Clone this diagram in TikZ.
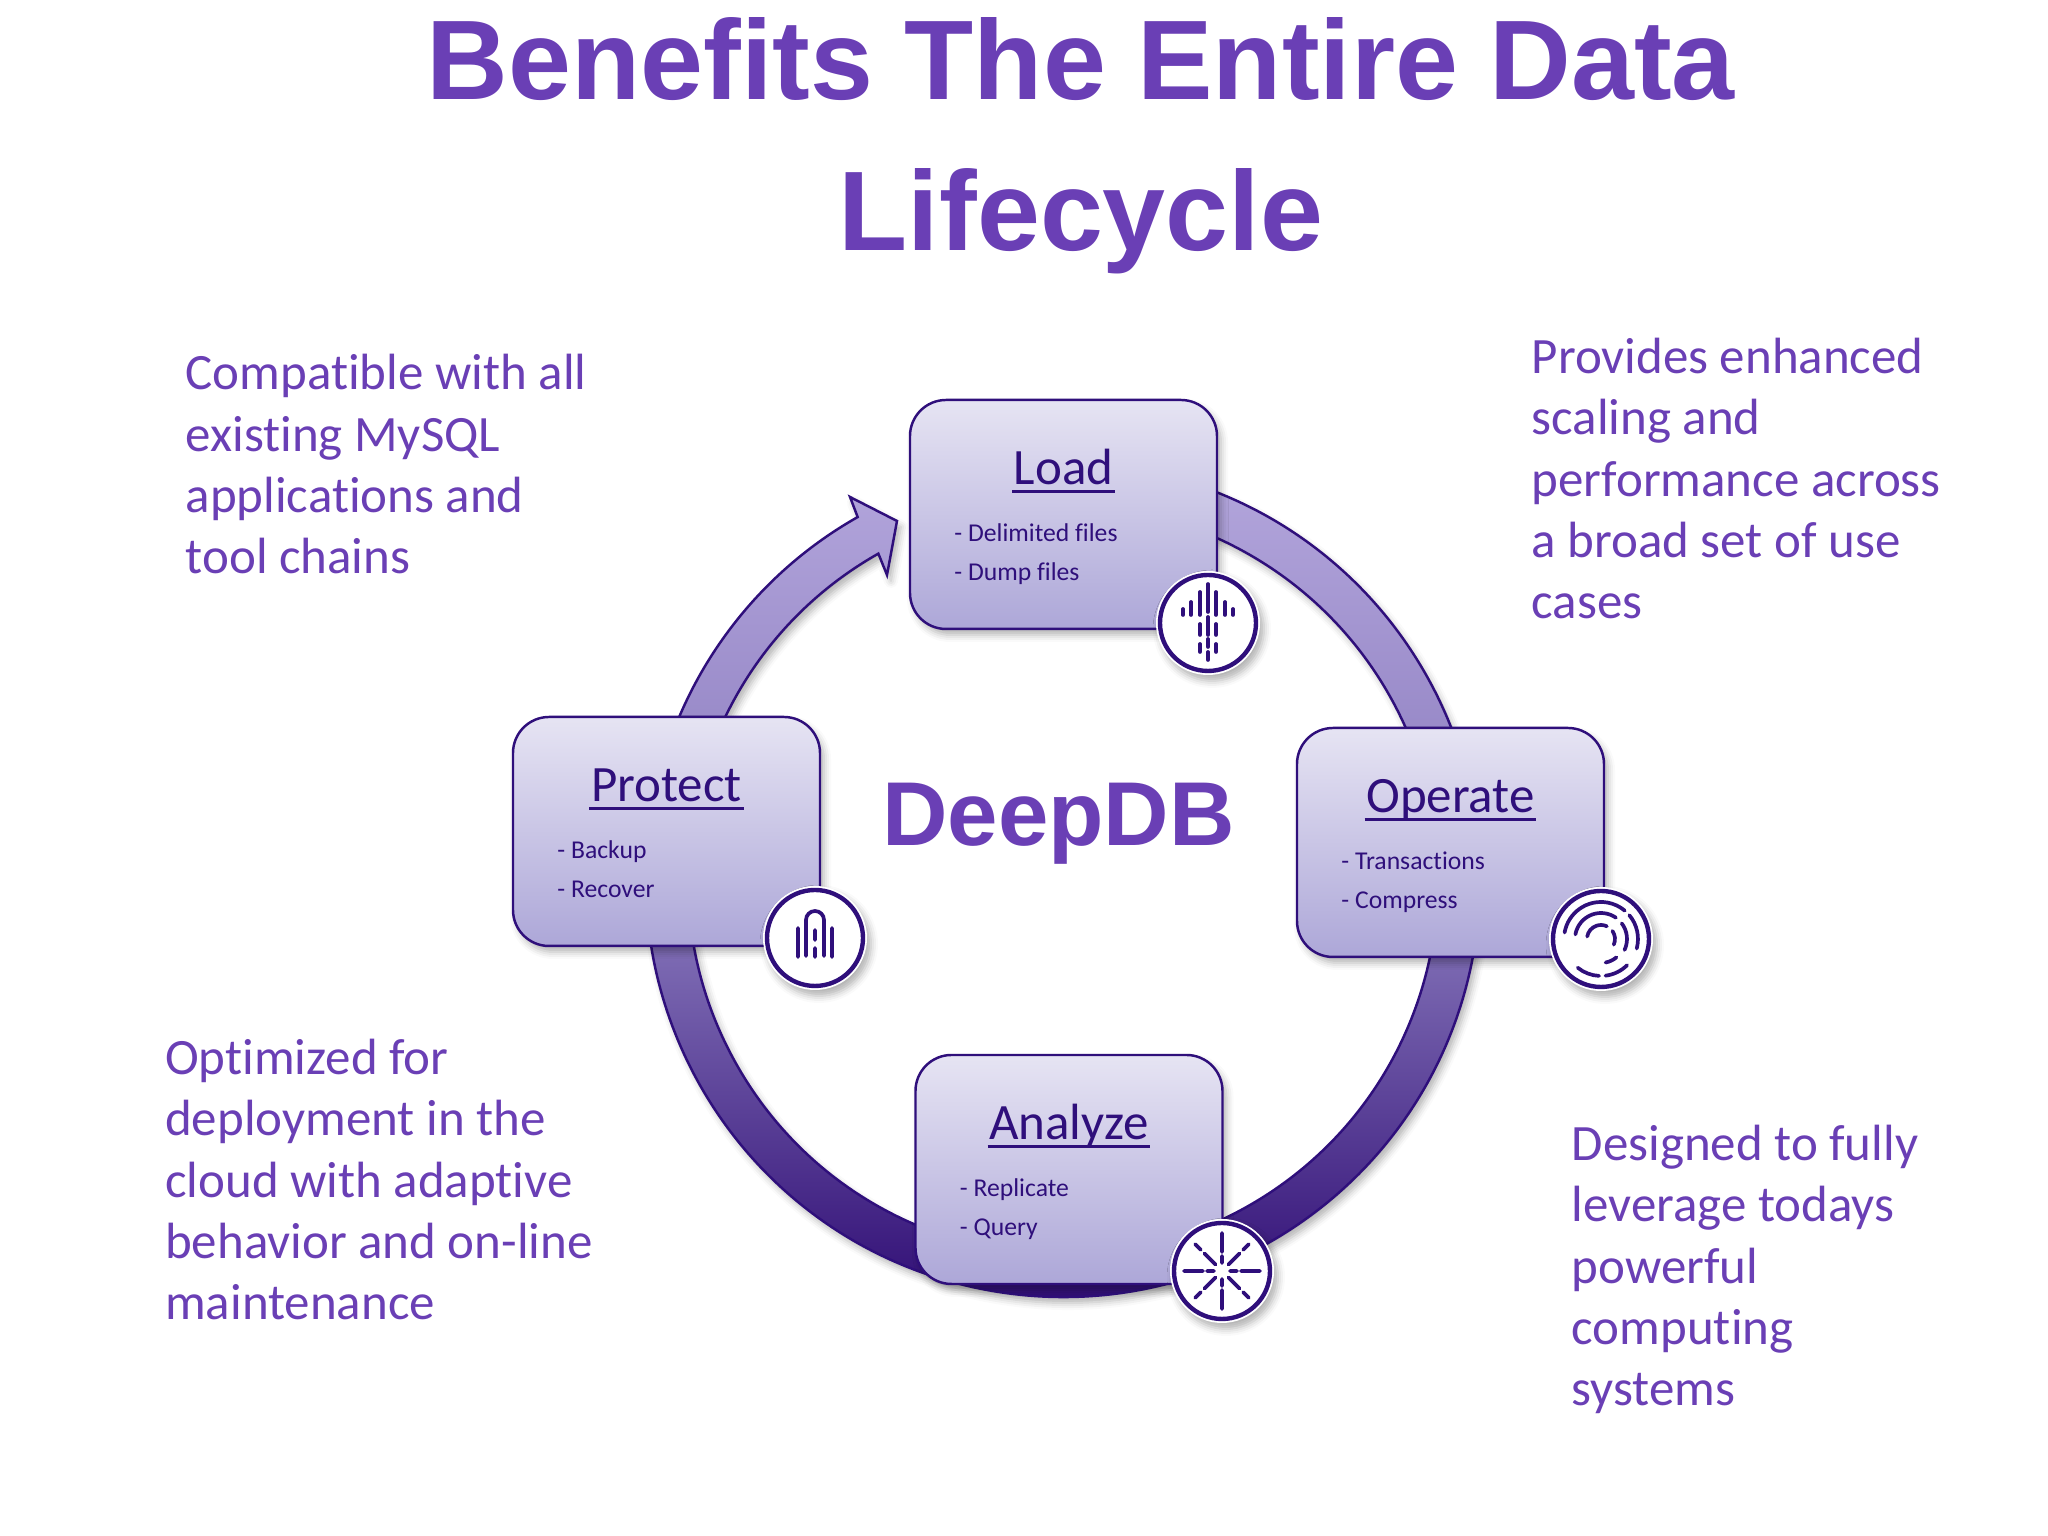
\documentclass[tikz,border=0pt]{standalone}
\usepackage{fontspec}
\setmainfont{Carlito}[Ligatures=NoCommon]
\newfontfamily\headfont{Liberation Sans}
\usetikzlibrary{shadows.blur}

\definecolor{inkdark}{HTML}{2F0F7B}
\definecolor{inkmid}{HTML}{6A3FB5}
\definecolor{cardtop}{HTML}{E6E4F3}
\definecolor{cardbot}{HTML}{ADA7D8}
\definecolor{ringtop}{HTML}{B3A6DC}
\definecolor{ringmid}{HTML}{8878BC}
\definecolor{ringbot}{HTML}{2A0670}
\newcommand{\cardhead}[1]{\setbox0\hbox{#1}\rlap{\kern-.5pt\rule[-2.3pt]{\dimexpr\wd0+1pt\relax}{.85pt}}\box0}

\begin{document}
\begin{tikzpicture}[
    soft/.style={blur shadow={shadow xshift=.04cm, shadow yshift=-.06cm,
        shadow blur radius=.07cm, shadow opacity=30}},
    heading/.style={font=\headfont\bfseries\fontsize{32.2}{43}\selectfont,
        text=inkmid, inner sep=0pt, align=center, anchor=base},
    note/.style={font=\fontsize{14.5}{17.46}\selectfont, text=inkmid,
        inner sep=0pt, align=left, anchor=base west},
    card/.style={soft, draw=inkdark, line width=.7pt, rounded corners=.36cm,
        top color=cardtop, bottom color=cardbot,
        minimum width=3.07cm, minimum height=2.29cm, inner sep=0pt},
    card title/.style={font=\fontsize{14.5}{17.46}\selectfont, text=inkdark,
        inner sep=0pt, anchor=base},
    card item/.style={font=\fontsize{7.3}{9}\selectfont, text=inkdark,
        inner sep=0pt, anchor=base west},
    disc/.style={soft, circle, fill=white, minimum size=1.04cm, inner sep=0pt},
    disc ring/.style={draw=inkdark, line width=1.25pt},
    glyph/.style={draw=inkdark, line width=1.05pt, line cap=round, x=.01cm, y=.01cm}
    ]
    \useasboundingbox (0,0) rectangle (20.48,15.36);
    % title
    \node[heading] (title) at (10.81,12.85) {Benefits The Entire Data\\Lifecycle};
    % notes
    \node[note] (note compat) at (1.85,9.62)
        {Compatible with all\\existing MySQL\\applications and\\tool chains};
    \node[note] (note scale) at (15.31,9.17)
        {Provides enhanced\\scaling and\\performance across\\a broad set of use\\cases};
    \node[note] (note cloud) at (1.645,2.16)
        {Optimized for\\deployment in the\\cloud with adaptive\\behavior and on-line\\maintenance};
    \node[note] (note power) at (15.71,1.30)
        {Designed to fully\\leverage todays\\powerful\\computing\\systems};
    % ring with arrow head
    \coordinate (hub) at (10.63,6.56);
    \coordinate (barb a) at (8.50,10.39);
    \coordinate (tip) at (8.97,10.15);
    \coordinate (barb b) at (8.87,9.61);
    \shadedraw[soft, draw=inkdark, line width=.7pt, line join=miter,
        top color=ringtop, bottom color=ringbot, middle color=ringmid]
        ([shift={(80:4.17)}]hub) arc[start angle=80, end angle=-240.5, radius=4.17]
        -- (barb a) -- (tip) -- (barb b)
        -- ([shift={(119.5:3.75)}]hub) arc[start angle=-240.5, end angle=80, radius=3.75]
        -- cycle;
    % center label
    \node[font=\headfont\bfseries\fontsize{25.8}{30}\selectfont, text=inkmid,
        inner sep=0pt, anchor=base] (deepdb) at (10.585,6.90) {DeepDB};
    % cards
    \node[card] (load) at (10.635,10.215) {};
    \node[card] (operate) at (14.505,6.935) {};
    \node[card] (analyze) at (10.69,3.665) {};
    \node[card] (protect) at (6.665,7.045) {};
    % card texts
    \node[card title] (load title) at ([yshift=-.86cm]load.north) {\cardhead{Load}};
    \node[card item] (load one) at ([xshift=.45cm,yshift=-1.43cm]load.north west) {- Delimited files};
    \node[card item] (load two) at ([xshift=.45cm,yshift=-1.82cm]load.north west) {- Dump files};
    \node[card title] (operate title) at ([yshift=-.86cm]operate.north) {\cardhead{Operate}};
    \node[card item] (operate one) at ([xshift=.45cm,yshift=-1.43cm]operate.north west) {- Transactions};
    \node[card item] (operate two) at ([xshift=.45cm,yshift=-1.82cm]operate.north west) {- Compress};
    \node[card title] (analyze title) at ([yshift=-.86cm]analyze.north) {\cardhead{Analyze}};
    \node[card item] (analyze one) at ([xshift=.45cm,yshift=-1.43cm]analyze.north west) {- Replicate};
    \node[card item] (analyze two) at ([xshift=.45cm,yshift=-1.82cm]analyze.north west) {- Query};
    \node[card title] (protect title) at ([yshift=-.86cm]protect.north) {\cardhead{Protect}};
    \node[card item] (protect one) at ([xshift=.45cm,yshift=-1.43cm]protect.north west) {- Backup};
    \node[card item] (protect two) at ([xshift=.45cm,yshift=-1.82cm]protect.north west) {- Recover};
    % discs
    \node[disc] (load disc) at (12.08,9.13) {};
    \node[disc] (operate disc) at (16.01,5.97) {};
    \node[disc] (analyze disc) at (12.22,2.65) {};
    \node[disc] (protect disc) at (8.15,5.98) {};
    \draw[disc ring] (load disc) circle (.48);
    \draw[disc ring] (operate disc) circle (.48);
    \draw[disc ring] (analyze disc) circle (.48);
    \draw[disc ring] (protect disc) circle (.48);
    % load glyph
    \begin{scope}[shift={(load disc)}]
        \draw[glyph] (-25,14) -- (-25,8) (-17,21) -- (-17,8)
            (-8,31) -- (-8,8) (-8,-1) -- (-8,-12) (-8,-21) -- (-8,-29)
            (0,39) -- (0,11) (0,6) -- (0,-12) (0,-16) -- (0,-24) (0,-29) -- (0,-37)
            (8,31) -- (8,8) (8,-1) -- (8,-12) (8,-21) -- (8,-29)
            (17,21) -- (17,8) (25,14) -- (25,8);
    \end{scope}
    % operate glyph
    \begin{scope}[shift={(operate disc)}]
        \draw[glyph] (170:37) arc[start angle=170, end angle=50, radius=37]
            (40:37) arc[start angle=40, end angle=-15, radius=37]
            (-45:37) arc[start angle=-45, end angle=-83, radius=37]
            (-93:37) arc[start angle=-93, end angle=-129, radius=37]
            (170:26) arc[start angle=170, end angle=55, radius=26]
            (37:26) arc[start angle=37, end angle=-25, radius=26]
            (-50:24) arc[start angle=-50, end angle=-79, radius=24]
            (170:14) arc[start angle=170, end angle=65, radius=14]
            (35:14) arc[start angle=35, end angle=-24, radius=14];
    \end{scope}
    % analyze glyph
    \begin{scope}[shift={(analyze disc)}]
        \draw[glyph] (0:8) -- (0:15) (0:19) -- (0:38)
            (90:8) -- (90:15) (90:19) -- (90:38)
            (180:8) -- (180:15) (180:19) -- (180:38)
            (270:8) -- (270:15) (270:19) -- (270:38)
            (45:9) -- (45:25) (45:30) -- (45:38)
            (135:9) -- (135:25) (135:30) -- (135:38)
            (225:9) -- (225:25) (225:30) -- (225:38)
            (315:9) -- (315:25) (315:30) -- (315:38);
    \end{scope}
    % protect glyph
    \begin{scope}[shift={(protect disc)}]
        \draw[glyph] (-17,10) -- (-17,-19) (17,10) -- (17,-19)
            (-9,-18) -- (-9,18) arc[start angle=180, end angle=0, radius=9] -- (9,-18)
            (0,8) -- (0,-2) (0,-10) -- (0,-19);
    \end{scope}
\end{tikzpicture}
\end{document}
